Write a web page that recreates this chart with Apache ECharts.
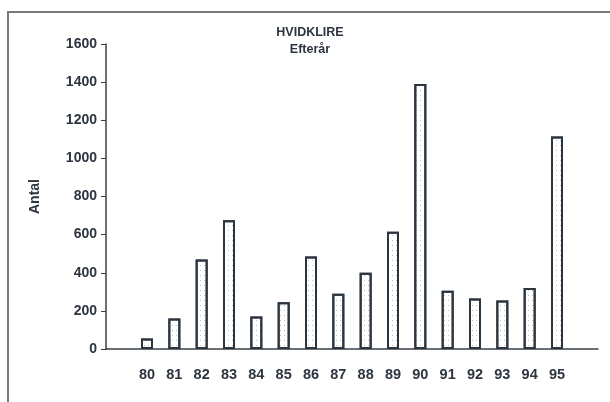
<!DOCTYPE html>
<html>
<head>
<meta charset="utf-8">
<script src="https://cdn.jsdelivr.net/npm/echarts@6/dist/echarts.min.js"></script>
<style>html,body{margin:0;padding:0;background:#fff}#c{width:610px;height:402px}</style>
</head>
<body>
<div id="c"></div>
<script>
const categories = ['80','81','82','83','84','85','86','87','88','89','90','91','92','93','94','95'];
const values = [55,160,470,675,170,245,485,290,400,615,1390,305,265,255,320,1115];
const yTicks = {min:0, max:1600, interval:200};

const axisCats = [''].concat(categories, ['']);
const axisVals = [null].concat(values, [null]);

const chart = echarts.init(document.getElementById('c'), null, {renderer:'canvas'});
const font = '"Liberation Sans", Arial, sans-serif';
chart.setOption({
  animation:false,
  backgroundColor:'#fff',
  title:{
    text:'HVIDKLIRE\nEfterår',
    left:305, top:19, textAlign:'center',
    textStyle:{fontFamily:font, fontSize:12.5, fontWeight:'bold', color:'#2d3540', lineHeight:17}
  },
  graphic:[{
    type:'rect', shape:{x:8, y:12, width:610, height:400},
    style:{fill:'none', stroke:'#7a7a7a', lineWidth:2}, silent:true
  }],
  grid:{left:106, right:12, top:44, bottom:53},
  xAxis:{
    type:'category', data:axisCats, boundaryGap:true,
    axisLine:{lineStyle:{color:'#3a3f45', width:1.5}},
    axisTick:{show:false},
    axisLabel:{fontFamily:font, fontSize:14.5, fontWeight:'bold', color:'#2d3540', margin:18, interval:0}
  },
  yAxis:{
    type:'value', min:yTicks.min, max:yTicks.max, interval:yTicks.interval,
    name:'Antal', nameLocation:'middle', nameGap:64, nameRotate:90,
    nameTextStyle:{fontFamily:font, fontSize:14, fontWeight:'bold', color:'#2d3540'},
    axisLine:{show:true, lineStyle:{color:'#3a3f45', width:1.5}},
    axisTick:{show:true, length:5, lineStyle:{color:'#3a3f45'}},
    splitLine:{show:false},
    axisLabel:{fontFamily:font, fontSize:14, fontWeight:'bold', color:'#2d3540', margin:9,
      formatter:function(v){return String(v);}}
  },
  series:[{
    type:'bar', data:axisVals, barWidth:12,
    itemStyle:{
      color:'#fff', borderColor:'#2b3540', borderWidth:2,
      decal:{symbol:'rect', symbolSize:1, dashArrayX:[1,3], dashArrayY:[1,4], color:'rgba(110,110,110,0.45)'}
    }
  }]
});
</script>
</body>
</html>
